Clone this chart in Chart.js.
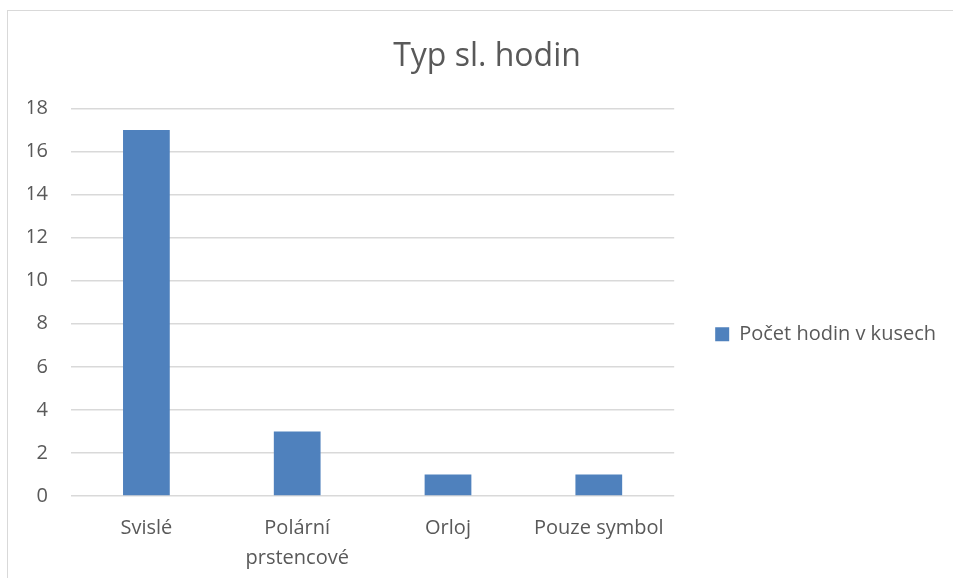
<!DOCTYPE html>
<html lang="cs">
<head>
    <meta charset="UTF-8">
    <title>Typ sl. hodin</title>
    <style>
        html, body { margin: 0; padding: 0; background: #fff; overflow: hidden; }
        #wrap { position: relative; width: 953px; height: 578px; overflow: hidden; }
        #frame {
            position: absolute; left: 7px; top: 10px;
            width: 1000px; height: 1000px;
            border: 1px solid #d9d9d9;
            pointer-events: none;
        }
        #chart { position: absolute; left: 0; top: 0; }
    </style>
</head>
<body>
    <div id="wrap">
        <canvas id="chart" width="1000" height="596"></canvas>
        <div id="frame"></div>
    </div>

    <script src="https://cdn.jsdelivr.net/npm/chart.js"></script>
    <script>
        const chartTitle = 'Typ sl. hodin';
        const categories = ['Svislé', ['Polární', 'prstencové'], 'Orloj', 'Pouze symbol'];
        const seriesName = 'Počet hodin v kusech';
        const seriesValues = [17, 3, 1, 1];
        const yTicks = [0, 2, 4, 6, 8, 10, 12, 14, 16, 18];

        const textColor = '#595959';
        const gridColor = '#d9d9d9';
        const fontFamily = '"Open Sans", sans-serif';

        const ctx = document.getElementById('chart').getContext('2d');
        new Chart(ctx, {
            type: 'bar',
            data: {
                labels: categories,
                datasets: [{
                    label: seriesName,
                    data: seriesValues,
                    backgroundColor: '#4f81bd',
                    borderWidth: 0,
                    barPercentage: 0.31,
                    categoryPercentage: 1
                }]
            },
            options: {
                responsive: false,
                animation: false,
                layout: { padding: { left: 28, right: 54, top: 0, bottom: 6 } },
                plugins: {
                    title: {
                        display: true,
                        text: chartTitle,
                        color: textColor,
                        font: { family: fontFamily, size: 32, weight: 'normal', lineHeight: 1.2 },
                        padding: { top: 38, bottom: 32 }
                    },
                    legend: {
                        position: 'right',
                        maxWidth: 400,
                        // empty title only pushes the item down to sit mid-plot
                        title: { display: true, text: ' ', font: { size: 2 }, padding: { top: 76, bottom: 0 } },
                        labels: {
                            color: textColor,
                            font: { family: fontFamily, size: 20 },
                            boxWidth: 14,
                            boxHeight: 14,
                            padding: 41
                        }
                    },
                    tooltip: { enabled: false }
                },
                scales: {
                    x: {
                        grid: { display: false, drawTicks: false },
                        border: { display: false },
                        ticks: {
                            color: textColor,
                            font: { family: fontFamily, size: 20, lineHeight: 1.5 },
                            padding: 17,
                            maxRotation: 0,
                            autoSkip: false
                        }
                    },
                    y: {
                        min: 0,
                        max: 18,
                        afterFit: (scale) => { scale.width = 43; },
                        afterBuildTicks: (scale) => { scale.ticks = yTicks.map(v => ({ value: v })); },
                        grid: { color: gridColor, lineWidth: 1.5, drawTicks: false },
                        border: { display: false },
                        ticks: {
                            color: textColor,
                            font: { family: fontFamily, size: 20 },
                            padding: 23
                        }
                    }
                }
            }
        });
    </script>
</body>
</html>
